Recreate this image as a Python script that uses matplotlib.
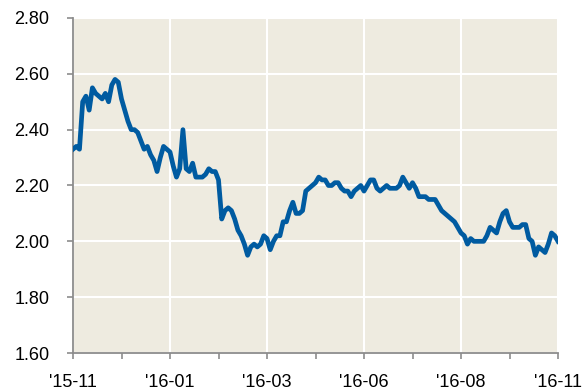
import matplotlib
matplotlib.use("Agg")
import matplotlib.pyplot as plt
import numpy as np

plt.rcParams['font.family'] = ['Liberation Sans', 'DejaVu Sans']

tick_labels = ["'15-11", "'16-01", "'16-03", "'16-06", "'16-08", "'16-11"]
tick_step = 30

values = [
    2.33, 2.34, 2.33, 2.50, 2.52, 2.47, 2.55, 2.53, 2.52, 2.51,
    2.53, 2.50, 2.56, 2.58, 2.57, 2.51, 2.47, 2.43, 2.40, 2.40,
    2.39, 2.36, 2.33, 2.34, 2.31, 2.29, 2.25, 2.30, 2.34, 2.33,
    2.32, 2.27, 2.23, 2.26, 2.40, 2.26, 2.25, 2.28, 2.23, 2.23,
    2.23, 2.24, 2.26, 2.25, 2.25, 2.22, 2.08, 2.11, 2.12, 2.11,
    2.08, 2.04, 2.02, 1.99, 1.95, 1.98, 1.99, 1.98, 1.99, 2.02,
    2.01, 1.97, 2.00, 2.02, 2.02, 2.07, 2.07, 2.11, 2.14, 2.10,
    2.10, 2.11, 2.18, 2.19, 2.20, 2.21, 2.23, 2.22, 2.22, 2.20,
    2.20, 2.21, 2.21, 2.19, 2.18, 2.18, 2.16, 2.18, 2.19, 2.20,
    2.18, 2.20, 2.22, 2.22, 2.19, 2.18, 2.19, 2.20, 2.19, 2.19,
    2.19, 2.20, 2.23, 2.21, 2.19, 2.21, 2.19, 2.16, 2.16, 2.16,
    2.15, 2.15, 2.15, 2.13, 2.11, 2.10, 2.09, 2.08, 2.07, 2.05,
    2.03, 2.02, 1.99, 2.01, 2.00, 2.00, 2.00, 2.00, 2.02, 2.05,
    2.04, 2.03, 2.07, 2.10, 2.11, 2.07, 2.05, 2.05, 2.05, 2.06,
    2.06, 2.01, 2.00, 1.95, 1.98, 1.97, 1.96, 1.99, 2.03, 2.02,
    2.00,
]

fig = plt.figure(figsize=(5.87, 3.92), dpi=100)
ax = fig.add_axes([73/587, 1 - 353/392, (558 - 73)/587, (353 - 18)/392])
ax.set_facecolor('#EEEBE0')

x = np.arange(len(values))
ax.plot(x, values, color='#005BA1', linewidth=3.4, solid_joinstyle='round', zorder=3)

ax.set_xlim(0, len(values) - 1)
ax.set_ylim(1.60, 2.80)
ax.set_yticks(np.arange(1.60, 2.81, 0.20))
ax.yaxis.set_major_formatter(matplotlib.ticker.FormatStrFormatter('%.2f'))
ax.set_xticks(np.arange(0, len(values), tick_step))
ax.set_xticklabels(tick_labels)
ax.set_xticks(np.arange(tick_step / 2, len(values), tick_step), minor=True)

ax.grid(True, which='major', color='white', linewidth=1.5, zorder=1)
ax.set_axisbelow(True)

for s in ['top', 'right']:
    ax.spines[s].set_visible(False)
for s in ['left', 'bottom']:
    ax.spines[s].set_color('#8C8C8C')
    ax.spines[s].set_linewidth(1.3)

ax.tick_params(axis='y', which='major', length=4, width=1.2, color='#8C8C8C',
               labelsize=13, pad=13, labelcolor='black')
ax.tick_params(axis='x', which='major', length=4, width=1.2, color='#8C8C8C',
               labelsize=13, pad=11, labelcolor='black')
ax.tick_params(axis='x', which='minor', length=4, width=1.2, color='#8C8C8C')

fig.savefig('out.png', dpi=100)
